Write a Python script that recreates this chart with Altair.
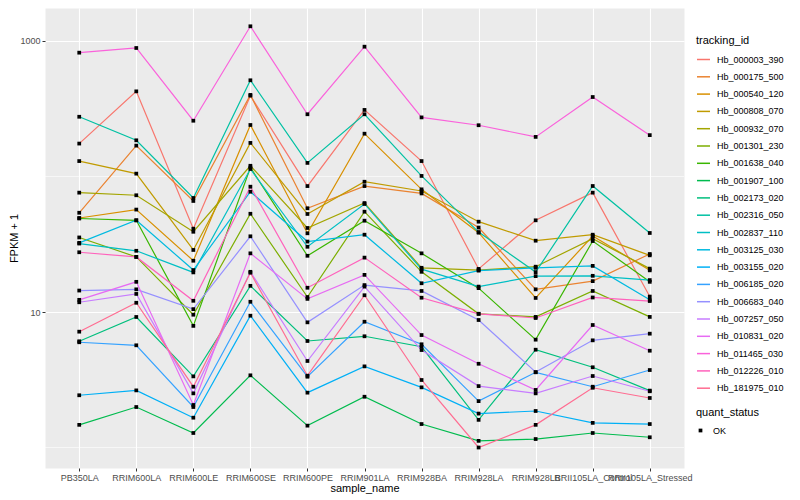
import altair as alt
import pandas as pd

samples = ["PB350LA", "RRIM600LA", "RRIM600LE", "RRIM600SE", "RRIM600PE", "RRIM901LA",
           "RRIM928BA", "RRIM928LA", "RRIM928LB", "RRII105LA_Control", "RRII105LA_Stressed"]

tracking_ids = ["Hb_000003_390", "Hb_000175_500", "Hb_000540_120", "Hb_000808_070", "Hb_000932_070",
                "Hb_001301_230", "Hb_001638_040", "Hb_001907_100", "Hb_002173_020", "Hb_002316_050",
                "Hb_002837_110", "Hb_003125_030", "Hb_003155_020", "Hb_006185_020", "Hb_006683_040",
                "Hb_007257_050", "Hb_010831_020", "Hb_011465_030", "Hb_012226_010", "Hb_181975_010"]

Hb_000003_390 = [175, 425, 41.2, 395, 85, 310, 130, 20.8, 47.5, 76, 13.0]
Hb_000175_500 = [54, 169, 66, 400, 58.3, 85, 75, 42, 14.7, 16.9, 26.8]
Hb_000540_120 = [49.4, 57, 23.9, 240, 38.1, 207, 80.4, 38.5, 12.7, 36.4, 20.3]
Hb_000808_070 = [130, 105, 28.7, 177, 52.9, 91.5, 78.2, 46.4, 33.6, 37.2, 26.2]
Hb_000932_070 = [76, 72.7, 39.1, 120, 41.7, 63.7, 21.2, 20.4, 21.6, 34.8, 20.9]
Hb_001301_230 = [35.5, 25.5, 9.55, 53.1, 12.9, 55.0, 19.8, 9.7, 9.2, 14.3, 9.2]
Hb_001638_040 = [49, 47.5, 7.9, 116.5, 26.0, 47.2, 27.1, 15.0, 6.25, 33.4, 16.7]
Hb_001907_100 = [1.47, 1.99, 1.28, 3.41, 1.45, 2.37, 1.49, 1.12, 1.155, 1.28, 1.19]
Hb_002173_020 = [6.08, 9.19, 3.35, 15.6, 6.11, 6.62, 5.54, 1.60, 5.27, 3.91, 2.63]
Hb_002316_050 = [276, 185, 69.4, 513, 126, 288, 101, 38.9, 19.7, 85.1, 38.3]
Hb_002837_110 = [32.0, 28.3, 19.6, 113.6, 30.3, 62.7, 20.7, 15.4, 18.4, 18.5, 17.2]
Hb_003125_030 = [32.4, 47.5, 20.4, 77.2, 33.1, 37.2, 16.3, 20.2, 21.2, 21.9, 12.3]
Hb_003155_020 = [2.43, 2.64, 1.66, 9.39, 2.54, 3.97, 2.78, 1.78, 1.86, 1.52, 1.49]
Hb_006185_020 = [5.98, 5.68, 1.99, 11.9, 3.33, 8.48, 5.78, 2.20, 3.59, 2.81, 3.73]
Hb_006683_040 = [14.4, 14.7, 10.5, 36.2, 8.39, 15.8, 14.3, 8.73, 3.6, 6.18, 6.92]
Hb_007257_050 = [11.8, 13.6, 2.51, 19.8, 4.35, 15.4, 5.24, 2.84, 2.51, 3.37, 2.60]
Hb_010831_020 = [12.3, 16.7, 2.06, 27.1, 12.5, 18.8, 6.76, 4.15, 2.66, 8.02, 5.18]
Hb_011465_030 = [820, 888, 258, 1284, 288, 908, 273, 239, 196, 386, 202]
Hb_012226_010 = [27.6, 25.5, 12.1, 84.1, 15.1, 25.2, 12.75, 9.7, 9.03, 12.8, 12.05]
Hb_181975_010 = [7.16, 11.7, 2.81, 19.5, 3.39, 13.3, 3.15, 1.00, 1.47, 2.76, 2.32]

series = [Hb_000003_390, Hb_000175_500, Hb_000540_120, Hb_000808_070, Hb_000932_070,
          Hb_001301_230, Hb_001638_040, Hb_001907_100, Hb_002173_020, Hb_002316_050,
          Hb_002837_110, Hb_003125_030, Hb_003155_020, Hb_006185_020, Hb_006683_040,
          Hb_007257_050, Hb_010831_020, Hb_011465_030, Hb_012226_010, Hb_181975_010]

palette = ["#F8766D", "#EA8331", "#D89000", "#C09B00", "#A3A500", "#7CAE00", "#39B600",
           "#00BB4E", "#00BF7D", "#00C1A3", "#00BFC4", "#00BAE0", "#00B0F6", "#35A2FF",
           "#9590FF", "#C77CFF", "#E76BF3", "#FA62DB", "#FF62BC", "#FF6C91"]

minor_breaks = [1, 100]
major_breaks = [10, 1000]

rows = []
for tid, vals in zip(tracking_ids, series):
    for s, v in zip(samples, vals):
        rows.append({"sample_name": s, "tracking_id": tid, "FPKM": v, "quant_status": "OK"})
df = pd.DataFrame(rows)
minor_df = pd.DataFrame({"FPKM": minor_breaks})

FONT = "Liberation Sans"
y_scale = alt.Scale(type="log", domain=[0.706, 1752], nice=False, zero=False)
y_axis = alt.Axis(title="FPKM + 1", values=major_breaks, format=".0f", titlePadding=0, labelPadding=2)
x_enc = alt.X("sample_name:N", sort=samples,
              scale=alt.Scale(type="point", padding=0.6),
              axis=alt.Axis(title="sample_name", labelAngle=0, labelOverlap=False,
                            labelFlush=False, labelBound=False, titlePadding=0, labelPadding=2))

minor = alt.Chart(minor_df).mark_rule(color="white", strokeWidth=0.6).encode(
    y=alt.Y("FPKM:Q", scale=y_scale, axis=y_axis)
)

lines = alt.Chart(df).mark_line(strokeWidth=1.2).encode(
    x=x_enc,
    y=alt.Y("FPKM:Q", scale=y_scale, axis=y_axis),
    color=alt.Color("tracking_id:N",
                    scale=alt.Scale(domain=tracking_ids, range=palette),
                    legend=alt.Legend(title="tracking_id", orient="none", legendX=651, legendY=27,
                                      symbolType="stroke", symbolStrokeWidth=1.5, symbolSize=169,
                                      labelFontSize=9, titleFontSize=11, titleFontWeight="normal",
                                      rowPadding=4.3, labelOffset=6, titlePadding=6,
                                      labelColor="black", titleColor="black")),
)

points = alt.Chart(df).mark_point(filled=True, shape="square", size=14, color="black", opacity=1).encode(
    x=x_enc,
    y=alt.Y("FPKM:Q", scale=y_scale, axis=y_axis),
    shape=alt.Shape("quant_status:N", scale=alt.Scale(domain=["OK"], range=["square"]),
                    legend=alt.Legend(title="quant_status", orient="none", legendX=651, legendY=399,
                                      symbolFillColor="black", symbolStrokeColor="black", symbolSize=14,
                                      labelFontSize=9, titleFontSize=11, titleFontWeight="normal",
                                      labelOffset=8, titlePadding=8,
                                      labelColor="black", titleColor="black")),
)

chart = alt.layer(minor, lines, points).properties(
    width=639, height=460,
    autosize=alt.AutoSizeParams(type="none"),
    padding={"left": 37, "top": 0, "right": 108, "bottom": 29},
).configure(font=FONT).configure_view(
    fill="#EBEBEB", stroke="transparent"
).configure_axis(
    domain=False, grid=True, gridColor="white", gridWidth=1.1,
    tickColor="#333333", tickSize=3, tickWidth=1,
    labelColor="#4D4D4D", labelFontSize=9, labelFont=FONT,
    titleFontSize=11, titleFontWeight="normal", titleFont=FONT, titleColor="black"
)

chart.save("out.html", embed_options={"renderer": "svg", "actions": False})
